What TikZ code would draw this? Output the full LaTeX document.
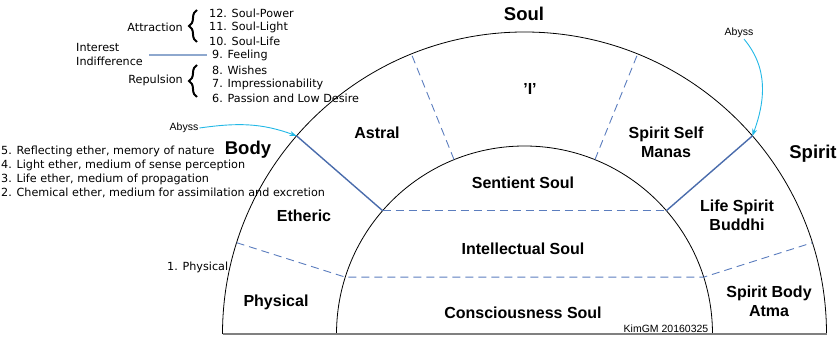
\documentclass[tikz,border=0pt]{standalone}
\usepackage{fontspec}
\setmainfont{Liberation Sans}
\newfontfamily\comicfont{DejaVu Sans}
\usetikzlibrary{arrows.meta,decorations.pathreplacing,calc}
\definecolor{dashblue}{HTML}{5B7DBE}
\definecolor{lineblue}{HTML}{4A6CAC}
\definecolor{abyssblue}{HTML}{22B8E6}
\definecolor{linkblue}{HTML}{8EA8CE}

\begin{document}
\begin{tikzpicture}[x=1pt, y=1pt,
    region/.style={font=\fontsize{16}{19}\selectfont\bfseries, align=center},
    realm/.style={font=\fontsize{18.5}{20}\selectfont\bfseries},
    listitem/.style={font=\comicfont\fontsize{11.2}{14}\selectfont, anchor=west, inner sep=0pt},
    grouplabel/.style={font=\comicfont\fontsize{11.2}{14}\selectfont, anchor=east, inner sep=0pt},
    note/.style={font=\fontsize{10.5}{12}\selectfont, inner sep=1pt},
    dashsplit/.style={dashblue, dash pattern=on 8pt off 5pt, line width=0.9pt},
    abyssline/.style={lineblue, line width=1.4pt},
    abyssarrow/.style={abyssblue, line width=0.9pt, -{Stealth[length=7pt,width=5pt]}},
    groupbrace/.style={decorate, decoration={brace, amplitude=8pt}, line width=2pt}
]
\useasboundingbox (0,0) rectangle (838,337);
\coordinate (ctr) at (524.5,3);
\foreach \a/\n in {17.6/a, 41/b, 68/c, 112/d, 139/e, 162.4/f} {
    \coordinate (in\n) at ($(ctr)+(\a:188)$);
    \coordinate (out\n) at ($(ctr)+(\a:302)$);
}

% rings
\draw[line width=0.8pt] (ctr) ++(302,0) arc[start angle=0, end angle=180, radius=302];
\draw[line width=0.8pt] (ctr) ++(188,0) arc[start angle=0, end angle=180, radius=188];
\draw[gray, line width=2pt] (ctr) ++(-302,0) -- ++(604,0);

% divisions
\draw[dashsplit] (outf) -- (inf) -- (ina) -- (outa);
\draw[dashsplit] (ine) -- (inb);
\draw[dashsplit] (ind) -- (outd);
\draw[dashsplit] (inc) -- (outc);
\draw[abyssline] (oute) -- (ine);
\draw[abyssline] (outb) -- (inb);

% realms and members
\node[realm] (soul) at (524,323) {Soul};
\node[realm] (body) at (248,187) {Body};
\node[realm] (spirit) at (813,183) {Spirit};
\node[region] (astral) at (377,204) {Astral};
\node[region] (ego) at (530,248) {'I'};
\node[region] (manas) at (666,194.5) {Spirit Self\\Manas};
\node[region] (sentient) at (523,154) {Sentient Soul};
\node[region] (etheric) at (304,121) {Etheric};
\node[region] (buddhi) at (737,121.5) {Life Spirit\\Buddhi};
\node[region] (intellect) at (523,88) {Intellectual Soul};
\node[region] (physical) at (276,35) {Physical};
\node[region] (conscious) at (523,24) {Consciousness Soul};
\node[region] (atma) at (769,35.5) {Spirit Body\\Atma};
\node[note] (sign) at (666,8) {KimGM 20160325};

% astral list
\node[listitem] (item12) at (209,324) {12. Soul-Power};
\node[listitem] (item11) at (209,310) {11. Soul-Light};
\node[listitem] (item10) at (209,296) {10. Soul-Life};
\node[listitem] (item9) at (212,282) {9. Feeling};
\node[listitem] (item8) at (212,267) {8. Wishes};
\node[listitem] (item7) at (212,253) {7. Impressionability};
\node[listitem] (item6) at (212,239) {6. Passion and Low Desire};
\node[grouplabel] (attract) at (183,310) {Attraction};
\node[grouplabel] (repulse) at (183,257) {Repulsion};
\node[listitem, align=left] (interest) at (76,282) {Interest\\Indifference};
\draw[groupbrace] (197,295) -- (197,327);
\draw[groupbrace] (197,240) -- (197,272);
\draw[linkblue, line width=1.5pt] ([xshift=6pt]interest.east) -- ([xshift=-5pt]item9.west);

% etheric list
\node[listitem] (ether5) at (1,186) {5. Reflecting ether, memory of nature};
\node[listitem] (ether4) at (1,172) {4. Light ether, medium of sense perception};
\node[listitem] (ether3) at (1,158) {3. Life ether, medium of propagation};
\node[listitem] (ether2) at (1,144) {2. Chemical ether, medium for assimilation and excretion};
\node[listitem] (ether1) at (167,70) {1. Physical};

% abyss
\node[note] (abyssl) at (184,209) {Abyss};
\node[note] (abyssr) at (739,304) {Abyss};
\draw[abyssarrow] (abyssl.east) to[out=8, in=160] (oute);
\draw[abyssarrow] ([xshift=5pt]abyssr.south) to[out=-50, in=70] (outb);
\end{tikzpicture}
\end{document}
